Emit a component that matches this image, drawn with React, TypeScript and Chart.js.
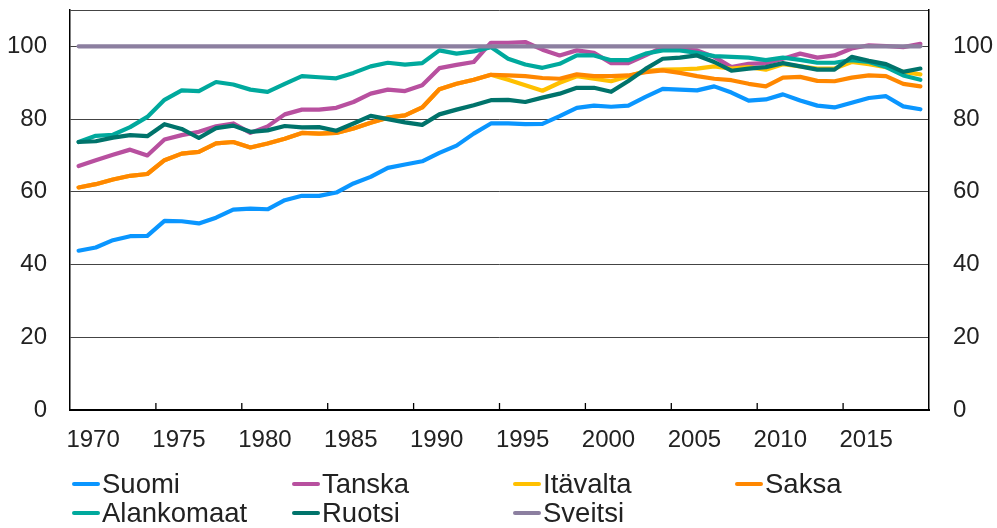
import React, { useEffect, useRef } from "react";
import { Chart, registerables } from "chart.js";

Chart.register(...registerables);

const YEARS = [
  "1970", "1971", "1972", "1973", "1974", "1975", "1976", "1977", "1978", "1979",
  "1980", "1981", "1982", "1983", "1984", "1985", "1986", "1987", "1988", "1989",
  "1990", "1991", "1992", "1993", "1994", "1995", "1996", "1997", "1998", "1999",
  "2000", "2001", "2002", "2003", "2004", "2005", "2006", "2007", "2008", "2009",
  "2010", "2011", "2012", "2013", "2014", "2015", "2016", "2017", "2018", "2019",
];

const X_TICK_LABELS = ["1970", "1975", "1980", "1985", "1990", "1995", "2000", "2005", "2010", "2015"];
const Y_TICKS = [0, 20, 40, 60, 80, 100];

const SUOMI = [
  43.8, 44.7, 46.7, 47.8, 47.9, 52.0, 51.9, 51.3, 52.9, 55.1,
  55.4, 55.2, 57.7, 58.9, 58.9, 59.8, 62.3, 64.1, 66.6, 67.5,
  68.4, 70.7, 72.7, 76.0, 78.8, 78.8, 78.6, 78.7, 80.8, 83.1,
  83.7, 83.4, 83.7, 86.1, 88.3, 88.1, 87.9, 89.0, 87.3, 85.1,
  85.4, 86.8, 85.1, 83.7, 83.2, 84.5, 85.8, 86.3, 83.5, 82.7,
];

const TANSKA = [
  67.1, 68.7, 70.2, 71.6, 70.0, 74.4, 75.6, 76.5, 78.0, 78.8,
  76.2, 78.0, 81.3, 82.6, 82.6, 83.1, 84.7, 87.0, 88.1, 87.7,
  89.3, 94.0, 94.9, 95.7, 101.0, 101.0, 101.2, 99.1, 97.5, 98.9,
  98.2, 95.4, 95.4, 97.5, 99.8, 99.1, 98.9, 97.1, 94.3, 95.2,
  95.4, 96.6, 98.0, 96.9, 97.5, 99.4, 100.3, 100.1, 99.8, 100.7,
];

const ITAVALTA = [
  61.2, 62.1, 63.4, 64.4, 64.9, 68.7, 70.5, 71.0, 73.3, 73.7,
  72.2, 73.3, 74.6, 76.2, 76.0, 76.2, 77.4, 79.0, 80.4, 81.0,
  83.2, 88.2, 89.7, 90.8, 92.2, 90.8, 89.3, 87.8, 90.0, 91.8,
  91.1, 90.4, 91.8, 93.2, 93.6, 93.7, 93.9, 94.5, 93.9, 94.3,
  93.6, 95.1, 94.5, 93.9, 93.9, 95.7, 95.1, 94.3, 93.0, 92.3,
];

const SAKSA = [
  61.2, 62.1, 63.4, 64.4, 64.9, 68.7, 70.5, 71.0, 73.3, 73.7,
  72.2, 73.3, 74.6, 76.2, 76.0, 76.2, 77.4, 79.0, 80.4, 81.0,
  83.2, 88.2, 89.7, 90.8, 92.2, 92.0, 91.8, 91.3, 91.1, 92.3,
  91.8, 91.8, 92.0, 92.9, 93.4, 92.7, 91.8, 91.1, 90.7, 89.7,
  89.0, 91.4, 91.6, 90.5, 90.4, 91.4, 92.0, 91.8, 89.7, 89.0,
];

const ALANKOMAAT = [
  73.7, 75.4, 75.7, 77.8, 80.6, 85.3, 87.9, 87.7, 90.2, 89.5,
  88.1, 87.5, 89.7, 91.8, 91.5, 91.2, 92.7, 94.5, 95.5, 95.0,
  95.4, 98.9, 98.0, 98.6, 99.8, 96.6, 95.0, 94.1, 95.2, 97.5,
  97.5, 96.2, 96.2, 98.0, 98.9, 98.9, 98.2, 97.3, 97.1, 96.9,
  96.2, 96.9, 96.3, 95.5, 95.5, 96.2, 95.7, 94.3, 92.0, 90.8,
];

const RUOTSI = [
  73.7, 73.9, 74.9, 75.6, 75.3, 78.6, 77.3, 74.8, 77.5, 78.2,
  76.5, 76.9, 78.1, 77.7, 77.8, 76.8, 78.8, 80.9, 80.0, 79.1,
  78.4, 81.3, 82.6, 83.8, 85.2, 85.3, 84.7, 85.9, 87.0, 88.6,
  88.6, 87.5, 90.5, 93.8, 96.6, 96.9, 97.5, 95.7, 93.3, 93.9,
  94.3, 95.4, 94.5, 93.6, 93.6, 97.1, 96.0, 95.1, 93.0, 93.9,
];

const SVEITSI = [
  100, 100, 100, 100, 100, 100, 100, 100, 100, 100,
  100, 100, 100, 100, 100, 100, 100, 100, 100, 100,
  100, 100, 100, 100, 100, 100, 100, 100, 100, 100,
  100, 100, 100, 100, 100, 100, 100, 100, 100, 100,
  100, 100, 100, 100, 100, 100, 100, 100, 100, 100,
];

const SERIES_NAMES = ["Suomi", "Tanska", "Itävalta", "Saksa", "Alankomaat", "Ruotsi", "Sveitsi"];
const SERIES_DATA = [SUOMI, TANSKA, ITAVALTA, SAKSA, ALANKOMAAT, RUOTSI, SVEITSI];
const SERIES_COLORS = ["#0A96FF", "#B8509F", "#FFC000", "#FF8700", "#00A99D", "#00736B", "#8C7FA0"];

const FONT_FAMILY = "'Liberation Sans', Arial, sans-serif";
const TEXT_COLOR = "#222222";

const LEGEND_COLS = [72, 292, 513, 735];
const LEGEND_ROWS = [469, 498];

const innerTicks = {
  id: "innerTicks",
  afterDatasetsDraw(chart: any) {
    const xs = chart.scales.x;
    const ctx = chart.ctx;
    const bottom = chart.chartArea.bottom;
    ctx.save();
    ctx.strokeStyle = "#000";
    ctx.lineWidth = 1.3;
    for (let k = 5; k < YEARS.length; k += 5) {
      const px = (xs.getPixelForValue(k - 1) + xs.getPixelForValue(k)) / 2;
      ctx.beginPath();
      ctx.moveTo(px, bottom);
      ctx.lineTo(px, bottom - 7);
      ctx.stroke();
    }
    ctx.restore();
  },
};

export default function App() {
  const canvasRef = useRef<HTMLCanvasElement | null>(null);

  useEffect(() => {
    if (!canvasRef.current) return;
    const tickFont = { family: FONT_FAMILY, size: 24 };
    const chart = new Chart(canvasRef.current, {
      type: "line",
      data: {
        labels: YEARS,
        datasets: SERIES_NAMES.map((name, i) => ({
          label: name,
          data: SERIES_DATA[i],
          borderColor: SERIES_COLORS[i],
          backgroundColor: SERIES_COLORS[i],
          borderWidth: 4.2,
          pointRadius: 0,
          pointHoverRadius: 0,
          tension: 0,
          fill: false,
          borderCapStyle: "round",
          borderJoinStyle: "round",
          order: SERIES_NAMES.length - 1 - i,
          yAxisID: "y",
        })),
      },
      options: {
        responsive: false,
        animation: false,
        events: [],
        layout: { padding: { top: 10, left: 0, right: 0, bottom: 0 } },
        plugins: {
          legend: { display: false },
          tooltip: { enabled: false },
        },
        scales: {
          x: {
            type: "category",
            offset: true,
            grid: { drawOnChartArea: false, drawTicks: false, offset: true },
            border: { display: true, color: "#000", width: 2 },
            ticks: {
              autoSkip: false,
              maxRotation: 0,
              minRotation: 0,
              padding: 16,
              labelOffset: 14.5,
              font: tickFont,
              color: TEXT_COLOR,
              callback: (_v: any, i: number) => (X_TICK_LABELS.includes(YEARS[i]) ? YEARS[i] : ""),
            },
            afterFit: (s: any) => {
              s.height = 118;
              s.paddingLeft = 0;
              s.paddingRight = 0;
            },
          },
          y: {
            position: "left",
            min: 0,
            max: 110,
            afterBuildTicks: (s: any) => {
              s.ticks = [...Y_TICKS, 110].map((v) => ({ value: v }));
            },
            grid: { color: "#444", lineWidth: 1, drawTicks: false },
            border: { display: true, color: "#000", width: 1.5 },
            ticks: {
              padding: 23,
              font: tickFont,
              color: TEXT_COLOR,
              callback: (v: any) => (Y_TICKS.includes(Number(v)) ? String(v) : ""),
            },
            afterFit: (s: any) => {
              s.width = 70;
              s.paddingTop = 0;
              s.paddingBottom = 0;
            },
          },
          y2: {
            position: "right",
            min: 0,
            max: 110,
            afterBuildTicks: (s: any) => {
              s.ticks = [...Y_TICKS, 110].map((v) => ({ value: v }));
            },
            grid: { drawOnChartArea: false, drawTicks: false },
            border: { display: true, color: "#000", width: 1.5 },
            ticks: {
              padding: 24,
              font: tickFont,
              color: TEXT_COLOR,
              callback: (v: any) => (Y_TICKS.includes(Number(v)) ? String(v) : ""),
            },
            afterFit: (s: any) => {
              s.width = 68;
              s.paddingTop = 0;
              s.paddingBottom = 0;
            },
          },
        },
      },
      plugins: [innerTicks],
    } as any);
    return () => chart.destroy();
  }, []);

  return (
    <div style={{ position: "absolute", left: 0, top: 0, width: 997, height: 528, background: "#fff" }}>
      <canvas ref={canvasRef} width={997} height={528} style={{ position: "absolute", left: 0, top: 0, width: 997, height: 528 }} />
      {SERIES_NAMES.map((name, i) => (
        <div
          key={name}
          style={{
            position: "absolute",
            left: LEGEND_COLS[i % 4],
            top: LEGEND_ROWS[Math.floor(i / 4)],
            height: 30,
            display: "flex",
            alignItems: "center",
            fontFamily: FONT_FAMILY,
            fontSize: 27.5,
            lineHeight: "30px",
            color: TEXT_COLOR,
            whiteSpace: "nowrap",
          }}
        >
          <span
            style={{
              display: "inline-block",
              width: 28,
              height: 4,
              borderRadius: 2,
              background: SERIES_COLORS[i],
              marginRight: 2,
            }}
          />
          <span>{name}</span>
        </div>
      ))}
    </div>
  );
}
